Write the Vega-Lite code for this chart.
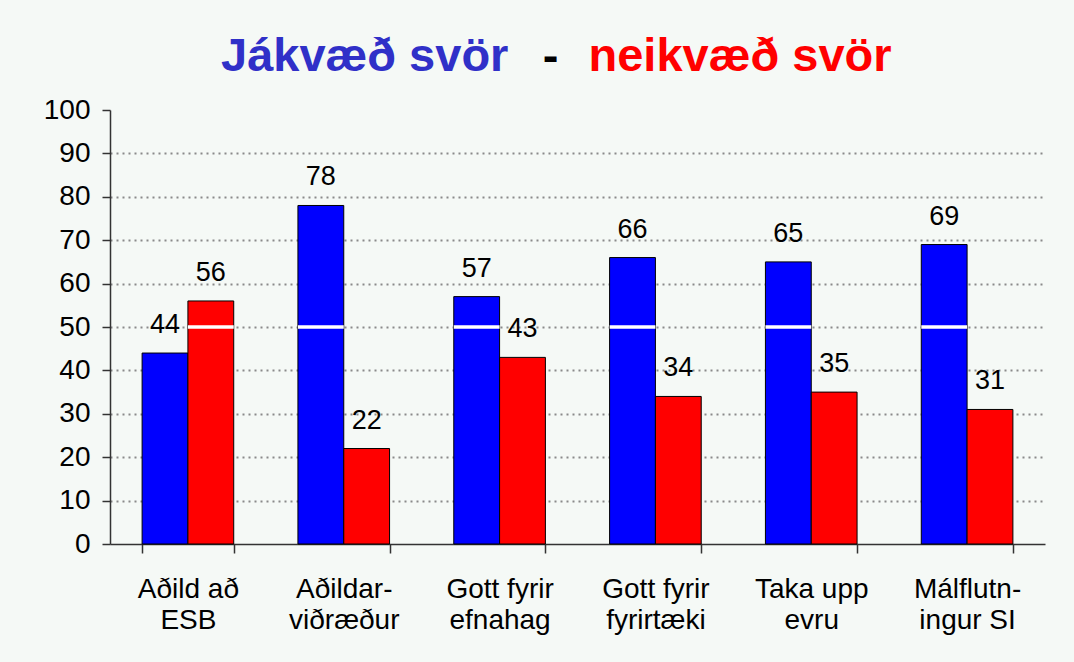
{
  "$schema": "https://vega.github.io/schema/vega-lite/v6.json",
  "width": 935,
  "height": 434,
  "autosize": {"type": "none"},
  "padding": {"left": 110, "top": 110, "right": 29, "bottom": 118},
  "background": "#f5f9f6",
  "title": {
    "text": "Jákvæð svör",
    "color": "#3030c8",
    "font": "Liberation Sans",
    "fontSize": 47,
    "fontWeight": "bold",
    "anchor": "start",
    "frame": "group",
    "orient": "top",
    "baseline": "alphabetic",
    "offset": 0,
    "dx": 111,
    "dy": 86
  },
  "config": {
    "view": {"stroke": null},
    "font": "Liberation Sans",
    "axis": {
      "labelFont": "Liberation Sans",
      "labelColor": "#000000",
      "domainColor": "#333333",
      "tickColor": "#333333",
      "titleFont": "Liberation Sans"
    }
  },
  "data": {
    "values": [
      {"flokkur": "Aðild að ESB", "svar": "Jákvæð", "hlutfall": 44},
      {"flokkur": "Aðild að ESB", "svar": "Neikvæð", "hlutfall": 56},
      {"flokkur": "Aðildarviðræður", "svar": "Jákvæð", "hlutfall": 78},
      {"flokkur": "Aðildarviðræður", "svar": "Neikvæð", "hlutfall": 22},
      {"flokkur": "Gott fyrir efnahag", "svar": "Jákvæð", "hlutfall": 57},
      {"flokkur": "Gott fyrir efnahag", "svar": "Neikvæð", "hlutfall": 43},
      {"flokkur": "Gott fyrir fyrirtæki", "svar": "Jákvæð", "hlutfall": 66},
      {"flokkur": "Gott fyrir fyrirtæki", "svar": "Neikvæð", "hlutfall": 34},
      {"flokkur": "Taka upp evru", "svar": "Jákvæð", "hlutfall": 65},
      {"flokkur": "Taka upp evru", "svar": "Neikvæð", "hlutfall": 35},
      {"flokkur": "Málflutningur SI", "svar": "Jákvæð", "hlutfall": 69},
      {"flokkur": "Málflutningur SI", "svar": "Neikvæð", "hlutfall": 31}
    ]
  },
  "encoding": {
    "x": {
      "field": "flokkur",
      "type": "nominal",
      "sort": null,
      "scale": {"paddingInner": 0.412, "paddingOuter": 0.206},
      "axis": {
        "title": "-",
        "titleColor": "#000000",
        "titleFontSize": 47,
        "titleFontWeight": "bold",
        "titleX": 440,
        "titleY": -474,
        "titleAlign": "center",
        "titleBaseline": "alphabetic",
        "labelAngle": 0,
        "labelFontSize": 28,
        "labelBaseline": "top",
        "labelPadding": 22,
        "labelLineHeight": 31,
        "labelExpr": "{'Aðild að ESB': ['Aðild að', 'ESB'], 'Aðildarviðræður': ['Aðildar-', 'viðræður'], 'Gott fyrir efnahag': ['Gott fyrir', 'efnahag'], 'Gott fyrir fyrirtæki': ['Gott fyrir', 'fyrirtæki'], 'Taka upp evru': ['Taka upp', 'evru'], 'Málflutningur SI': ['Málflutn-', 'ingur SI']}[datum.value]",
        "tickBand": "extent",
        "tickSize": 9,
        "domainWidth": 1.5,
        "tickWidth": 1.5,
        "grid": false
      }
    },
    "xOffset": {
      "field": "svar",
      "type": "nominal",
      "sort": ["Jákvæð", "Neikvæð"],
      "scale": {"paddingInner": 0, "paddingOuter": 0}
    },
    "y": {
      "field": "hlutfall",
      "type": "quantitative",
      "scale": {"domain": [0, 100], "nice": false},
      "axis": {
        "values": [0, 10, 20, 30, 40, 50, 60, 70, 80, 90, 100],
        "title": "neikvæð svör",
        "titleColor": "#ff0000",
        "titleFontSize": 47,
        "titleFontWeight": "bold",
        "titleAngle": 0,
        "titleX": 478,
        "titleY": -40,
        "titleAlign": "left",
        "titleBaseline": "alphabetic",
        "labelFontSize": 28,
        "labelPadding": 12,
        "tickSize": 8,
        "tickWidth": 1.5,
        "domainWidth": 1.5,
        "grid": true,
        "gridColor": "#8a8a8a",
        "gridDash": [2, 4],
        "gridWidth": 2,
        "gridOpacity": {"condition": {"test": "datum.value === 100 || datum.value === 0", "value": 0}, "value": 1}
      }
    }
  },
  "layer": [
    {
      "mark": {"type": "bar", "stroke": "#000000", "strokeWidth": 1},
      "encoding": {
        "color": {
          "field": "svar",
          "type": "nominal",
          "scale": {"domain": ["Jákvæð", "Neikvæð"], "range": ["#0000ff", "#ff0000"]},
          "legend": null
        }
      }
    },
    {
      "mark": {"type": "text", "fontSize": 27, "baseline": "alphabetic", "align": "center", "dy": -20, "color": "#000000"},
      "encoding": {
        "text": {"field": "hlutfall", "type": "quantitative"}
      }
    },
    {
      "transform": [{"filter": "datum.hlutfall > 50"}],
      "mark": {"type": "bar", "color": "#ffffff"},
      "encoding": {
        "y": {"datum": 49.6, "type": "quantitative"},
        "y2": {"datum": 50.4}
      }
    }
  ]
}
